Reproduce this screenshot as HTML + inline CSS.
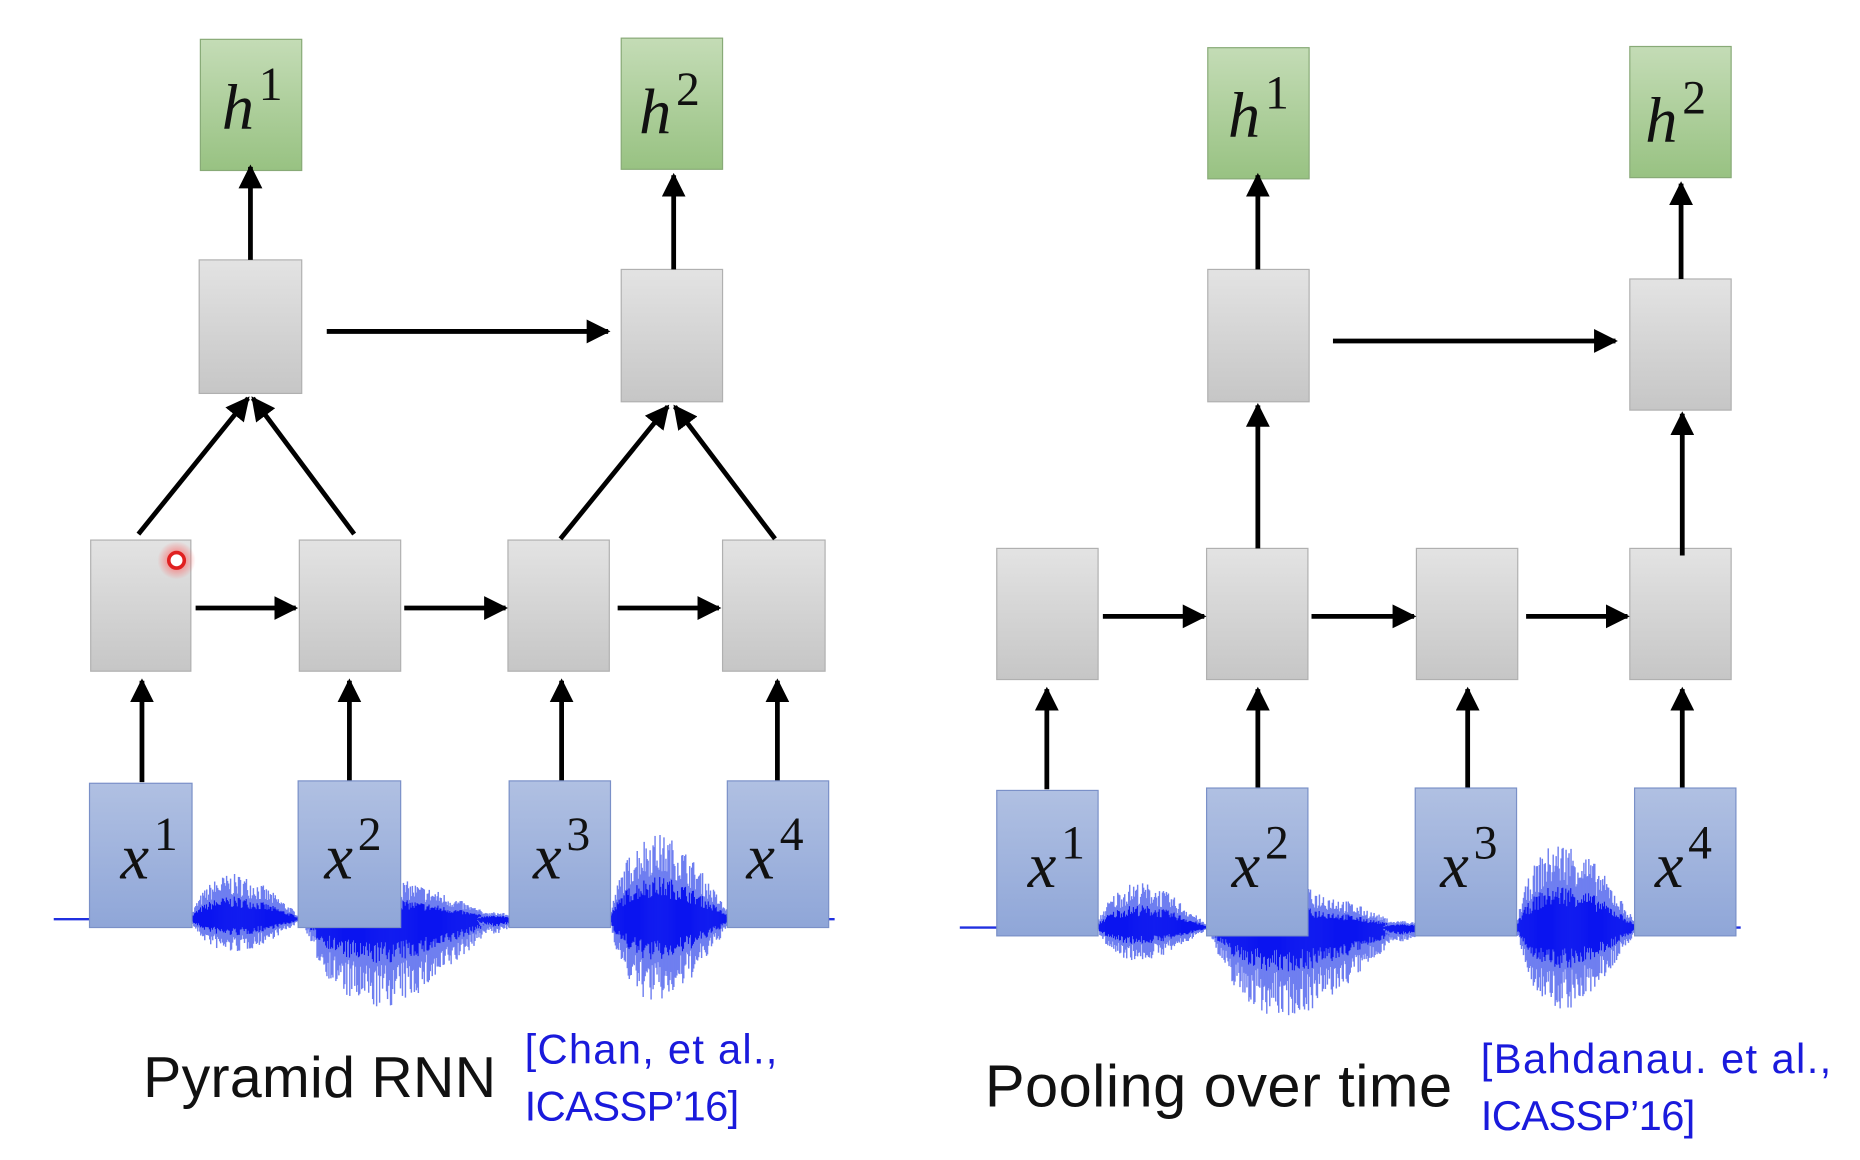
<!DOCTYPE html>
<html><head><meta charset="utf-8"><style>
html,body{margin:0;padding:0;background:#fff;}
svg{display:block;}
.m{font-family:"Liberation Serif",serif;font-style:italic;}
</style></head><body>
<svg id="s" width="1860" height="1160" viewBox="0 0 1560 973" xmlns="http://www.w3.org/2000/svg">
<defs>
<linearGradient id="gg" x1="0" y1="0" x2="0" y2="1"><stop offset="0" stop-color="#e3e3e3"/><stop offset="1" stop-color="#c6c6c6"/></linearGradient>
<linearGradient id="gn" x1="0" y1="0" x2="0" y2="1"><stop offset="0" stop-color="#c4dcb6"/><stop offset="1" stop-color="#98c282"/></linearGradient>
<linearGradient id="bl" x1="0" y1="0" x2="0" y2="1"><stop offset="0" stop-color="#b0c0e2"/><stop offset="1" stop-color="#8fa6d8"/></linearGradient>
<marker id="a" viewBox="0 0 10 10" refX="9" refY="5" markerWidth="5" markerHeight="5" orient="auto"><path d="M0,0 L10,5 L0,10 z" fill="#000"/></marker>
<radialGradient id="rg"><stop offset="0.4" stop-color="#ff6060" stop-opacity="0.6"/><stop offset="1" stop-color="#ff6060" stop-opacity="0"/></radialGradient>
</defs>
<g id="wave"></g>
<g id="main" stroke-width="4" stroke="#000" fill="none"></g>
<circle cx="148" cy="470" r="16" fill="url(#rg)"/>
<circle cx="148" cy="470" r="6.5" fill="#fff" stroke="#e02020" stroke-width="3"/>
<g font-family="Liberation Sans, sans-serif">
<text x="120" y="920" font-size="48" fill="#111" textLength="296">Pyramid RNN</text>
<text x="440" y="892" font-size="35" fill="#1a1adc" textLength="212">[Chan, et al.,</text>
<text x="440" y="940" font-size="35" fill="#1a1adc" textLength="180">ICASSP’16]</text>
<text x="826" y="928" font-size="50" fill="#111" textLength="392">Pooling over time</text>
<text x="1242" y="900" font-size="35" fill="#1a1adc" textLength="294">[Bahdanau. et al.,</text>
<text x="1242" y="948" font-size="35" fill="#1a1adc" textLength="180">ICASSP’16]</text>
</g>
</svg>
<script>
var NS="http://www.w3.org/2000/svg",main=document.getElementById('main'),wave=document.getElementById('wave');
function el(p,t,a,txt){var e=document.createElementNS(NS,t);for(var k in a)e.setAttribute(k,a[k]);if(txt)e.textContent=txt;p.appendChild(e);return e;}
function box(x1,y1,x2,y2,f,st){el(main,'rect',{x:x1,y:y1,width:x2-x1,height:y2-y1,fill:f,stroke:st,'stroke-width':1});}
function arr(x1,y1,x2,y2){el(main,'line',{x1:x1,y1:y1,x2:x2,y2:y2,'marker-end':'url(#a)'});}
function lab(x,y,v,s){var t=el(main,'text',{x:x,y:y,'class':'m','font-size':54,fill:'#111',stroke:'none'},v);el(t,'tspan',{dx:4,dy:-24,'font-size':40,'font-style':'normal'},s);}
var seed=7;function r(){seed=(seed*16807)%2147483647;return seed/2147483647;}
function burst(x1,x2,up,down,base){
 var n=Math.round((x2-x1)*1.2);
 for(var i=0;i<n;i++){var x=x1+(x2-x1)*i/n,t=i/n,env=Math.sin(Math.PI*Math.pow(t,0.7));
  var u=up*env*(0.5+0.5*r()),d=down*env*(0.5+0.5*r());
  el(wave,'line',{x1:x,y1:base-u,x2:x,y2:base+d,stroke:'#6f7ff0','stroke-width':1.2});
  el(wave,'line',{x1:x,y1:base-u*0.5,x2:x,y2:base+d*0.5,stroke:'#0a14f0','stroke-width':1.4});}
}
function panel(dx,dy){
 var b=771+dy;
 el(wave,'line',{x1:45+dx,y1:b,x2:700+dx,y2:b,stroke:'#2030e0','stroke-width':2});
 burst(160+dx,255+dx,38,28,b);burst(255+dx,420+dx,35,75,b);burst(400+dx,440+dx,6,12,b);
 burst(512+dx,615+dx,72,70,b);
}
panel(0,0);panel(760,7);
var G='url(#gg)',GS='#b0b0b0',N='url(#gn)',NS2='#88aa77',B='url(#bl)',BS='#7a90c8';
box(168,33,253,143,N,NS2);box(521,32,606,142,N,NS2);
box(167,218,253,330,G,GS);box(521,226,606,337,G,GS);
[[76,160],[251,336],[426,511],[606,692]].forEach(function(c){box(c[0],453,c[1],563,G,GS);});
arr(210,218,210,140);arr(565,226,565,147);arr(274,278,510,278);
arr(116,448,208,334);arr(297,448,212,334);arr(470,452,560,341);arr(650,452,566,341);
arr(164,510,248,510);arr(339,510,424,510);arr(518,510,603,510);
[119,293,471,652].forEach(function(x){arr(x,656,x,571);});
box(75,657,161,778,B,BS);box(250,655,336,778,B,BS);box(427,655,512,778,B,BS);box(610,655,695,778,B,BS);
lab(186,108,'h','1');lab(536,112,'h','2');
lab(101,737,'x','1');lab(272,737,'x','2');lab(447,737,'x','3');lab(626,737,'x','4');
box(1013,40,1098,150,N,NS2);box(1367,39,1452,149,N,NS2);
box(1013,226,1098,337,G,GS);box(1367,234,1452,344,G,GS);
[[836,921],[1012,1097],[1188,1273],[1367,1452]].forEach(function(c){box(c[0],460,c[1],570,G,GS);});
arr(1055,226,1055,147);arr(1410,234,1410,154);arr(1118,286,1355,286);
arr(1055,460,1055,340);arr(1411,466,1411,347);
arr(925,517,1010,517);arr(1100,517,1186,517);arr(1280,517,1365,517);
[878,1055,1231,1411].forEach(function(x){arr(x,662,x,578);});
box(836,663,921,785,B,BS);box(1012,661,1097,785,B,BS);box(1187,661,1272,785,B,BS);box(1371,661,1456,785,B,BS);
lab(1030,115,'h','1');lab(1380,119,'h','2');
lab(862,744,'x','1');lab(1033,744,'x','2');lab(1208,744,'x','3');lab(1388,744,'x','4');
</script>
</body></html>
